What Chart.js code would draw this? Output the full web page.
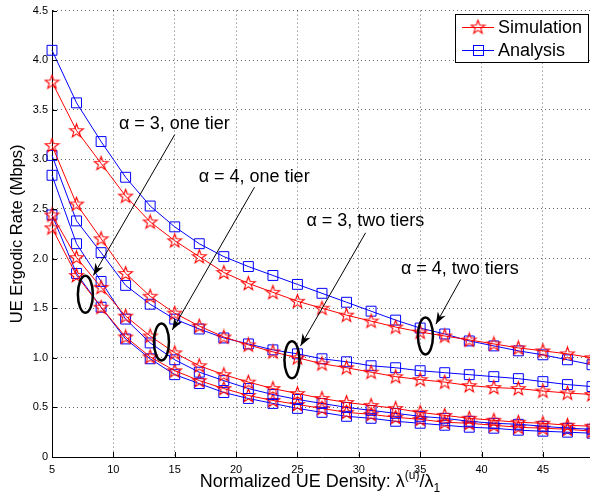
<!DOCTYPE html>
<html lang="en">
<head>
<meta charset="UTF-8">
<title>UE Ergodic Rate vs Normalized UE Density</title>
<script src="https://cdn.jsdelivr.net/npm/chart.js@4.4.0/dist/chart.umd.min.js"></script>
<style>
    html, body { margin: 0; padding: 0; background: #fff; overflow: hidden; }
    #wrap { width: 600px; height: 492px; }
</style>
</head>
<body>
<div id="wrap"><canvas id="rateChart" width="600" height="492"></canvas></div>
<script>
// normalized UE density (x)
const densities = [5, 7, 9, 11, 13, 15, 17, 19, 21, 23, 25, 27, 29, 31, 33, 35, 37, 39, 41, 43, 45, 47, 49];

// alpha = 4, two tiers
const anaA4Two = [4.10, 3.57, 3.18, 2.82, 2.53, 2.32, 2.15, 2.02, 1.92, 1.83, 1.74, 1.65, 1.56, 1.47, 1.38, 1.30, 1.24, 1.17, 1.12, 1.07, 1.03, 0.98, 0.93];
const simA4Two = [3.78, 3.29, 2.96, 2.63, 2.37, 2.18, 2.02, 1.86, 1.75, 1.66, 1.57, 1.50, 1.43, 1.37, 1.31, 1.26, 1.22, 1.18, 1.14, 1.10, 1.07, 1.04, 1.00];
// alpha = 3, two tiers
const anaA3Two = [3.04, 2.38, 2.06, 1.73, 1.54, 1.39, 1.29, 1.20, 1.14, 1.08, 1.04, 0.99, 0.96, 0.92, 0.90, 0.87, 0.85, 0.83, 0.81, 0.79, 0.76, 0.73, 0.71];
const simA3Two = [3.14, 2.55, 2.20, 1.85, 1.62, 1.45, 1.32, 1.21, 1.13, 1.06, 1.00, 0.94, 0.90, 0.855, 0.81, 0.78, 0.755, 0.72, 0.70, 0.69, 0.665, 0.645, 0.63];
// alpha = 4, one tier
const anaA4One = [2.84, 2.15, 1.77, 1.39, 1.15, 0.98, 0.855, 0.77, 0.69, 0.63, 0.58, 0.54, 0.50, 0.47, 0.44, 0.41, 0.39, 0.36, 0.34, 0.33, 0.31, 0.29, 0.28];
const simA4One = [2.44, 2.01, 1.71, 1.42, 1.22, 1.05, 0.92, 0.83, 0.755, 0.69, 0.64, 0.59, 0.55, 0.52, 0.49, 0.45, 0.42, 0.39, 0.37, 0.35, 0.34, 0.32, 0.31];
// alpha = 3, one tier
const anaA3One = [2.44, 1.85, 1.51, 1.19, 0.99, 0.83, 0.74, 0.65, 0.59, 0.54, 0.49, 0.45, 0.41, 0.39, 0.36, 0.34, 0.32, 0.30, 0.29, 0.27, 0.26, 0.25, 0.24];
const simA3One = [2.31, 1.83, 1.51, 1.21, 1.01, 0.87, 0.77, 0.69, 0.62, 0.57, 0.53, 0.49, 0.45, 0.43, 0.40, 0.38, 0.35, 0.34, 0.32, 0.30, 0.29, 0.28, 0.26];

const xTicks = [5, 10, 15, 20, 25, 30, 35, 40, 45];
const yTicks = [0, 0.5, 1, 1.5, 2, 2.5, 3, 3.5, 4, 4.5];

const FONT = "'Liberation Sans', Arial, Helvetica, sans-serif";
const RED = '#ff0000';
const BLUE = '#0000ff';

// hollow pentagram marker (matlab style)
function makeStar(color) {
    const c = document.createElement('canvas');
    c.width = 17; c.height = 17;
    const g = c.getContext('2d');
    const R = 7.2, r = 2.9;
    g.beginPath();
    for (let i = 0; i < 10; i++) {
        const rad = i % 2 === 0 ? R : r;
        const ang = -Math.PI / 2 + i * Math.PI / 5;
        const px = 8.5 + rad * Math.cos(ang), py = 8.9 + rad * Math.sin(ang);
        if (i === 0) g.moveTo(px, py); else g.lineTo(px, py);
    }
    g.closePath();
    g.strokeStyle = color;
    g.lineWidth = 1.1;
    g.stroke();
    return c;
}
const starMark = makeStar(RED);

function series(values, isSim) {
    return {
        data: densities.map((d, i) => ({ x: d, y: values[i] })),
        borderColor: isSim ? RED : BLUE,
        borderWidth: 1,
        pointStyle: isSim ? starMark : 'rect',
        pointRadius: 7,
        pointBorderWidth: 1,
        pointBorderColor: isSim ? RED : BLUE,
        pointBackgroundColor: 'rgba(0,0,0,0)',
        tension: 0,
        clip: false
    };
}

// callouts: label position, pointer line, ellipse (all in data units)
const notes = [
    { text: 'α = 3, one tier',   tx: 10.45, ty: 3.36, from: [15.0, 3.25],  to: [8.37, 1.83],  ring: [7.72, 1.64] },
    { text: 'α = 4, one tier',   tx: 16.95, ty: 2.82, from: [21.5, 2.72],  to: [14.8, 1.28],  ring: [13.92, 1.16] },
    { text: 'α = 3, two tiers',  tx: 25.73, ty: 2.375, from: [30.55, 2.26], to: [25.25, 1.12], ring: [24.55, 0.98] },
    { text: 'α = 4, two tiers',  tx: 33.43, ty: 1.89, from: [38.3, 1.79],  to: [36.28, 1.34], ring: [35.43, 1.22] }
];

const decorations = {
    id: 'decorations',
    afterDraw(chart) {
        const { ctx, chartArea: a, scales: { x, y } } = chart;
        ctx.save();

        // inward tick marks
        ctx.strokeStyle = '#000';
        ctx.lineWidth = 1;
        ctx.beginPath();
        xTicks.forEach(v => {
            const px = Math.round(x.getPixelForValue(v)) + 0.5;
            ctx.moveTo(px, a.bottom); ctx.lineTo(px, a.bottom - 5);
        });
        yTicks.forEach(v => {
            const py = Math.round(y.getPixelForValue(v)) + 0.5;
            ctx.moveTo(a.left, py); ctx.lineTo(a.left + 5, py);
        });
        ctx.stroke();

        // callouts
        ctx.fillStyle = '#000';
        ctx.font = '18px ' + FONT;
        ctx.textBaseline = 'middle';
        ctx.textAlign = 'left';
        notes.forEach(n => {
            ctx.fillText(n.text, x.getPixelForValue(n.tx), y.getPixelForValue(n.ty));
            const x1 = x.getPixelForValue(n.from[0]), y1 = y.getPixelForValue(n.from[1]);
            const x2 = x.getPixelForValue(n.to[0]), y2 = y.getPixelForValue(n.to[1]);
            ctx.lineWidth = 1;
            ctx.beginPath(); ctx.moveTo(x1, y1); ctx.lineTo(x2, y2); ctx.stroke();
            const ang = Math.atan2(y2 - y1, x2 - x1);
            const L = 12, W = 4.5;
            ctx.beginPath();
            ctx.moveTo(x2, y2);
            ctx.lineTo(x2 - L * Math.cos(ang) + W * Math.sin(ang), y2 - L * Math.sin(ang) - W * Math.cos(ang));
            ctx.lineTo(x2 - 0.7 * L * Math.cos(ang), y2 - 0.7 * L * Math.sin(ang));
            ctx.lineTo(x2 - L * Math.cos(ang) - W * Math.sin(ang), y2 - L * Math.sin(ang) + W * Math.cos(ang));
            ctx.closePath();
            ctx.fill();
            ctx.lineWidth = 2.5;
            ctx.beginPath();
            ctx.ellipse(x.getPixelForValue(n.ring[0]), y.getPixelForValue(n.ring[1]), 7.5, 18.5, 0, 0, Math.PI * 2);
            ctx.stroke();
        });

        // legend box
        const lx = 455.5, ly = 14.5, lw = 133, lh = 48;
        ctx.fillStyle = '#fff';
        ctx.fillRect(lx, ly, lw, lh);
        ctx.lineWidth = 1;
        ctx.strokeStyle = '#000';
        ctx.strokeRect(lx, ly, lw, lh);
        const rows = [['Simulation', RED, 27], ['Analysis', BLUE, 50]];
        rows.forEach(([label, col, ry], i) => {
            ctx.strokeStyle = col;
            ctx.beginPath(); ctx.moveTo(462, ry + 0.5); ctx.lineTo(494, ry + 0.5); ctx.stroke();
            if (i === 0) {
                ctx.drawImage(starMark, 478 - 8.5, ry - 8.5);
            } else {
                ctx.strokeRect(473.5, ry - 4.5, 10, 10);
            }
            ctx.fillStyle = '#000';
            ctx.font = '18px ' + FONT;
            ctx.fillText(label, 498, ry + 1);
        });

        // y axis title
        ctx.save();
        ctx.translate(17, (a.top + a.bottom) / 2);
        ctx.rotate(-Math.PI / 2);
        ctx.textAlign = 'center';
        ctx.font = '16.5px ' + FONT;
        ctx.fillText('UE Ergodic Rate (Mbps)', 0, 0);
        ctx.restore();

        // x axis title with super/subscripts
        const parts = [
            ['Normalized UE Density: λ', 18, 0],
            ['(u)', 12, -8],
            ['/λ', 18, 0],
            ['1', 12, 5]
        ];
        let total = 0;
        parts.forEach(p => { ctx.font = p[1] + 'px ' + FONT; total += ctx.measureText(p[0]).width; });
        let cx = 320 - total / 2;
        ctx.textBaseline = 'alphabetic';
        ctx.textAlign = 'left';
        parts.forEach(p => {
            ctx.font = p[1] + 'px ' + FONT;
            ctx.fillText(p[0], cx, 487 + p[2]);
            cx += ctx.measureText(p[0]).width;
        });

        ctx.restore();
    }
};

new Chart(document.getElementById('rateChart'), {
    type: 'line',
    data: {
        datasets: [
            series(simA4Two, true), series(anaA4Two, false),
            series(simA3Two, true), series(anaA3Two, false),
            series(simA4One, true), series(anaA4One, false),
            series(simA3One, true), series(anaA3One, false)
        ]
    },
    options: {
        responsive: false,
        animation: false,
        events: [],
        layout: { padding: { top: 8, right: 7, left: 0, bottom: 0 } },
        plugins: { legend: { display: false }, tooltip: { enabled: false } },
        scales: {
            x: {
                type: 'linear',
                min: 5,
                max: 49,
                afterBuildTicks: s => { s.ticks = xTicks.map(v => ({ value: v })); },
                afterFit: s => { s.height = 35; },
                grid: { color: 'rgba(0,0,0,0.6)', lineWidth: 1, drawTicks: false },
                border: { display: true, color: '#000', width: 1, dash: [1, 3] },
                ticks: { color: '#000', font: { family: FONT, size: 11 }, padding: 6, maxRotation: 0, autoSkip: false }
            },
            y: {
                type: 'linear',
                min: 0,
                max: 4.5,
                afterBuildTicks: s => { s.ticks = yTicks.map(v => ({ value: v })); },
                afterFit: s => { s.width = 52; },
                grid: { color: 'rgba(0,0,0,0.6)', lineWidth: 1, drawTicks: false },
                border: { display: true, color: '#000', width: 1, dash: [1, 3] },
                ticks: { color: '#000', font: { family: FONT, size: 11 }, padding: 4 }
            }
        }
    },
    plugins: [decorations]
});
</script>
</body>
</html>
